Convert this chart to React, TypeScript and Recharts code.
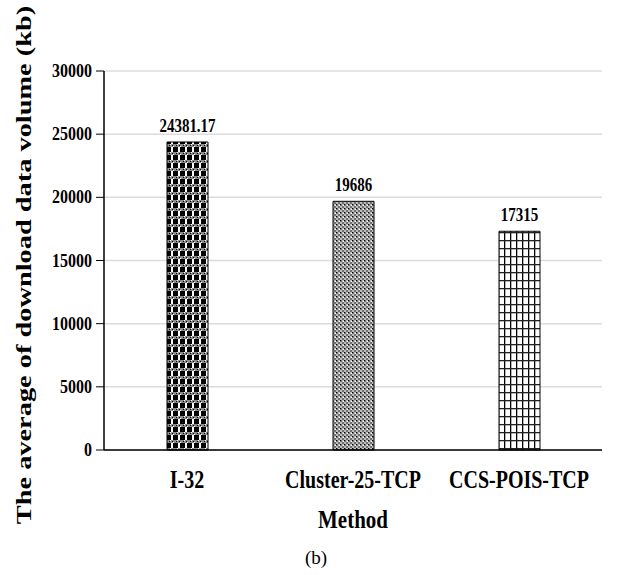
import React from 'react';
import { BarChart, Bar, XAxis, YAxis, CartesianGrid, Cell, LabelList, Label } from 'recharts';

const categories = ['I-32', 'Cluster-25-TCP', 'CCS-POIS-TCP'];
const values = [24381.17, 19686, 17315];
const valueLabels = ['24381.17', '19686', '17315'];
const yTicks = [0, 5000, 10000, 15000, 20000, 25000, 30000];
const patternIds = ['pI32', 'pCluster', 'pCCS'];

const data = categories.map((c, i) => ({ name: c, value: values[i], label: valueLabels[i] }));

const serif = '"Liberation Serif", "DejaVu Serif", serif';
const STRETCH = 1.22;

const XTick = (props: any) => {
  const { x, y, payload } = props;
  return (
    <g transform={`translate(${x},${y}) scale(1,${STRETCH})`}>
      <text x={0} y={25} textAnchor="middle" fontFamily={serif} fontWeight="bold" fontSize={20} fill="#000">
        {payload.value}
      </text>
    </g>
  );
};

const YTick = (props: any) => {
  const { x, y, payload } = props;
  return (
    <g transform={`translate(${x},${y}) scale(1,${STRETCH})`}>
      <text x={0} y={5} textAnchor="end" fontFamily={serif} fontWeight="bold" fontSize={16} fill="#000">
        {payload.value}
      </text>
    </g>
  );
};

const BarLabel = (props: any) => {
  const { x, y, width, value } = props;
  const cx = x + width / 2;
  return (
    <g transform={`translate(${cx},${y - 10}) scale(1,${STRETCH})`}>
      <text x={0} y={0} textAnchor="middle" fontFamily={serif} fontWeight="bold" fontSize={15} fill="#000">
        {value}
      </text>
    </g>
  );
};

export default function App() {
  return (
    <div style={{ position: 'absolute', left: 0, top: 0, width: 632, height: 575, background: '#fff' }}>
      <BarChart
        width={632}
        height={575}
        data={data}
        margin={{ top: 71, right: 30, bottom: 95, left: 44 }}
        barCategoryGap={0}
      >
        <defs>
          <pattern id="pI32" width="7" height="8" patternUnits="userSpaceOnUse">
            <rect x="0" y="0" width="7" height="8" fill="#000000" />
            <rect x="3" y="3" width="2" height="5" fill="#ffffff" />
            <rect x="0" y="0" width="7" height="3" fill="#8c8c8c" />
            <rect x="1" y="1" width="1" height="1" fill="#000" />
            <rect x="4" y="1" width="1" height="1" fill="#000" />
            <rect x="2" y="0" width="1" height="1" fill="#fff" />
            <rect x="5" y="2" width="1" height="1" fill="#fff" />
          </pattern>
          <pattern id="pCluster" width="4" height="4" patternUnits="userSpaceOnUse">
            <rect x="0" y="0" width="4" height="4" fill="#bdbdbd" />
            <rect x="0" y="0" width="2" height="2" fill="#6f6f6f" />
            <rect x="2" y="2" width="2" height="2" fill="#6f6f6f" />
            <rect x="0" y="0" width="1" height="1" fill="#000" />
            <rect x="3" y="1" width="1" height="1" fill="#fff" />
          </pattern>
          <pattern id="pCCS" width="6" height="8" patternUnits="userSpaceOnUse">
            <rect x="0" y="0" width="6" height="8" fill="#ffffff" />
            <rect x="0" y="0" width="1.3" height="8" fill="#000" />
            <rect x="0" y="0" width="6" height="1.3" fill="#222" />
          </pattern>
        </defs>
        <CartesianGrid vertical={false} stroke="#dcdcdc" strokeWidth={1.5} />
        <XAxis
          dataKey="name"
          tickLine={false}
          axisLine={{ stroke: '#000', strokeWidth: 1.5 }}
          height={30}
          tick={<XTick />}
        >
          <Label
            content={() => (
              <g transform={`translate(353,528) scale(1,${STRETCH})`}>
                <text x={0} y={0} textAnchor="middle" fontFamily={serif} fontWeight="bold" fontSize={21} fill="#000">
                  Method
                </text>
              </g>
            )}
          />
        </XAxis>
        <YAxis
          width={60}
          domain={[0, 30000]}
          ticks={yTicks}
          interval={0}
          tickLine={{ stroke: '#000' }}
          tickSize={8}
          tickMargin={4}
          axisLine={{ stroke: '#000', strokeWidth: 1.5 }}
          tick={<YTick />}
        >
          <Label
            content={() => (
              <g transform="translate(31,265) rotate(-90) scale(1.29,1)">
                <text x={0} y={0} textAnchor="middle" fontFamily={serif} fontWeight="bold" fontSize={22} fill="#000">
                  The average of download data volume (kb)
                </text>
              </g>
            )}
          />
        </YAxis>
        <Bar dataKey="value" barSize={41} stroke="#000" strokeWidth={1} isAnimationActive={false}>
          {data.map((d, i) => (
            <Cell key={d.name} fill={`url(#${patternIds[i]})`} />
          ))}
          <LabelList dataKey="label" content={<BarLabel />} />
        </Bar>
      </BarChart>
      <div
        style={{
          position: 'absolute',
          left: 0,
          width: 632,
          top: 547,
          textAlign: 'center',
          fontFamily: serif,
          fontSize: 19,
          color: '#000',
        }}
      >
        (b)
      </div>
    </div>
  );
}
